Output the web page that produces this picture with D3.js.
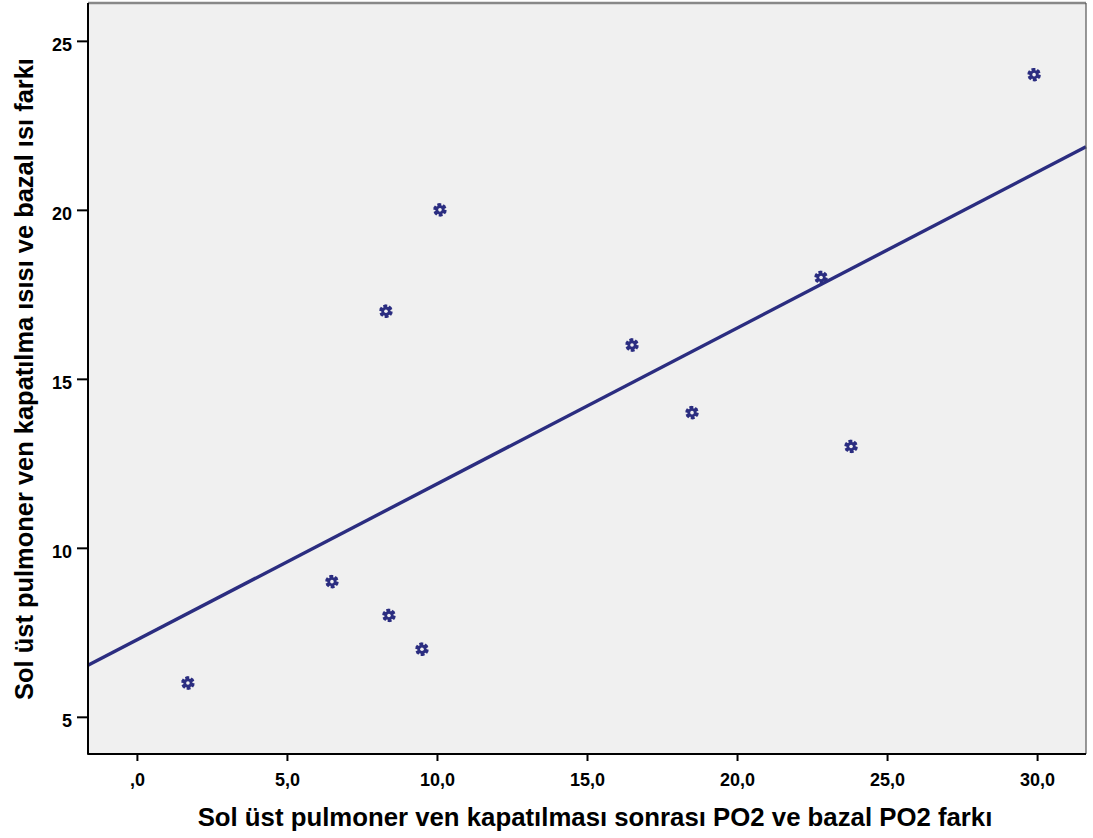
<!DOCTYPE html>
<html>
<head>
<meta charset="utf-8">
<script src="https://cdn.jsdelivr.net/npm/d3@7"></script>
<style>
  body { margin: 0; background: #fff; }
  text { font-family: "Liberation Sans", Arial, sans-serif; font-weight: bold; fill: #000; }
</style>
</head>
<body>
<div id="chart"></div>
<script>
    // values
    const po2Diff = [1.7, 6.5, 8.4, 9.5, 8.3, 10.1, 16.5, 18.5, 22.8, 23.8, 29.9];
    const heatDiff = [6, 9, 8, 7, 17, 20, 16, 14, 18, 13, 24];
    const xTicks = [0, 5, 10, 15, 20, 25, 30];
    const yTicks = [5, 10, 15, 20, 25];
    const xTitle = 'Sol üst pulmoner ven kapatılması sonrası PO2 ve bazal PO2 farkı';
    const yTitle = 'Sol üst pulmoner ven kapatılma ısısı ve bazal ısı farkı';

    const width = 1093, height = 838;
    const plot = { left: 88, top: 3, right: 1086, bottom: 754 };
    const navy = '#2b2d80';

    const svg = d3.select('#chart').append('svg')
        .attr('width', width)
        .attr('height', height);

    const x = d3.scaleLinear().domain([-1.63, 31.63]).range([plot.left, plot.right]);
    const y = d3.scaleLinear().domain([3.9, 26.12]).range([plot.bottom, plot.top]);

    // plot background
    svg.append('rect')
        .attr('x', plot.left).attr('y', plot.top)
        .attr('width', plot.right - plot.left)
        .attr('height', plot.bottom - plot.top)
        .attr('fill', '#f0f0f0');

    // least squares fit line
    const mx = d3.mean(po2Diff), my = d3.mean(heatDiff);
    let sxy = 0, sxx = 0;
    po2Diff.forEach((v, i) => {
        sxy += (v - mx) * (heatDiff[i] - my);
        sxx += (v - mx) * (v - mx);
    });
    const slope = sxy / sxx, icpt = my - slope * mx;
    const [x0, x1] = x.domain();

    svg.append('line')
        .attr('x1', x(x0)).attr('y1', y(icpt + slope * x0))
        .attr('x2', x(x1)).attr('y2', y(icpt + slope * x1))
        .attr('stroke', navy)
        .attr('stroke-width', 3.4);

    // points, drawn as small gear-like stars
    const pts = svg.append('g').selectAll('g')
        .data(po2Diff.map((v, i) => [v, heatDiff[i]]))
        .join('g')
        .attr('transform', d => `translate(${x(d[0])},${y(d[1])})`);

    pts.append('path')
        .attr('d', d3.symbol(d3.symbolAsterisk, 125))
        .attr('stroke', navy)
        .attr('stroke-width', 2.6);
    pts.append('path')
        .attr('d', d3.symbol(d3.symbolAsterisk, 125))
        .attr('transform', 'rotate(45)')
        .attr('stroke', navy)
        .attr('stroke-width', 2.6);
    pts.append('circle')
        .attr('r', 4.5)
        .attr('fill', navy);
    pts.append('circle')
        .attr('r', 1.8)
        .attr('fill', '#f0f0f0');

    // frame
    svg.append('line')
        .attr('x1', plot.left).attr('x2', plot.right)
        .attr('y1', plot.top).attr('y2', plot.top)
        .attr('stroke', '#888').attr('stroke-width', 2.5);
    svg.append('line')
        .attr('x1', plot.right).attr('x2', plot.right)
        .attr('y1', plot.top).attr('y2', plot.bottom)
        .attr('stroke', '#555').attr('stroke-width', 1.2);

    // axes
    const xAxis = svg.append('g')
        .attr('transform', `translate(0,${plot.bottom})`)
        .call(d3.axisBottom(x).tickValues(xTicks)
            .tickFormat(d => d3.format('.1f')(d).replace('.', ',').replace(/^0,/, ','))
            .tickSizeOuter(0).tickSize(7).tickPadding(12));
    const yAxis = svg.append('g')
        .attr('transform', `translate(${plot.left},0)`)
        .call(d3.axisLeft(y).tickValues(yTicks)
            .tickSizeOuter(0).tickSize(11).tickPadding(5));

    [xAxis, yAxis].forEach(a => {
        a.attr('font-size', null).attr('font-family', null);
        a.select('.domain').remove();
        a.selectAll('.tick line').attr('stroke', '#000').attr('stroke-width', 2);
        a.selectAll('.tick text')
            .style('font-size', '18px')
            .attr('fill', '#000');
    });
    yAxis.selectAll('.tick text').attr('dy', '0.52em');

    svg.append('line')
        .attr('x1', plot.left).attr('x2', plot.left)
        .attr('y1', plot.top).attr('y2', plot.bottom + 0.8)
        .attr('stroke', '#000').attr('stroke-width', 2);
    svg.append('line')
        .attr('x1', plot.left).attr('x2', plot.right)
        .attr('y1', plot.bottom).attr('y2', plot.bottom)
        .attr('stroke', '#000').attr('stroke-width', 2);

    // axis titles, sized to the width they take in the reference
    function fitText(sel, target) {
        const w = sel.node().getComputedTextLength();
        const fs = parseFloat(sel.style('font-size'));
        sel.style('font-size', (fs * target / w).toFixed(2) + 'px');
    }

    const xt = svg.append('text')
        .attr('x', 595).attr('y', 826)
        .attr('text-anchor', 'middle')
        .style('font-size', '24px')
        .text(xTitle);
    fitText(xt, 795);

    const yt = svg.append('text')
        .attr('transform', 'translate(33,379) rotate(-90)')
        .attr('text-anchor', 'middle')
        .style('font-size', '24px')
        .text(yTitle);
    fitText(yt, 642);
</script>
</body>
</html>
